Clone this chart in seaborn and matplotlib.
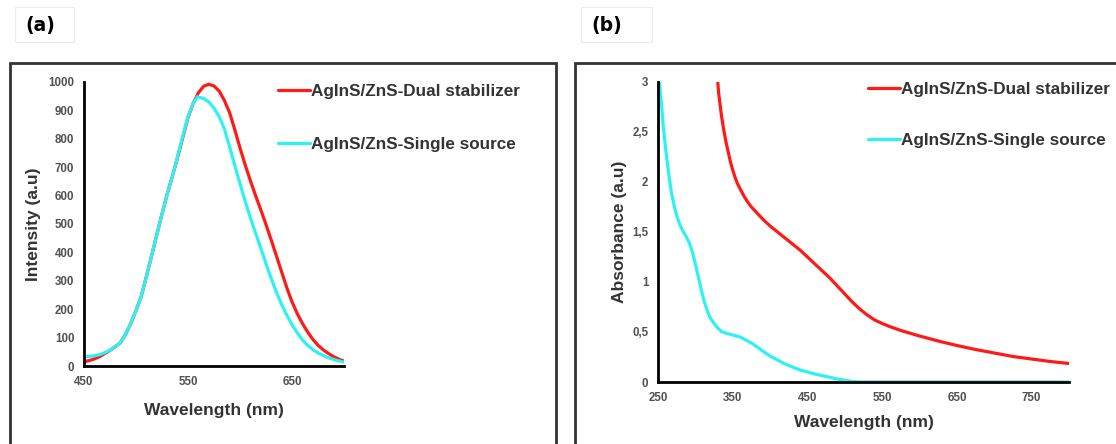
import numpy as np
import pandas as pd
import matplotlib
matplotlib.use("Agg")
import matplotlib.pyplot as plt
from matplotlib.patches import Rectangle
from matplotlib.lines import Line2D
from matplotlib.ticker import FuncFormatter
import seaborn as sns

# ---------------- data ----------------
# (a) photoluminescence
pl_wl_dual = [450, 455, 460, 465, 470, 475, 480, 485, 490, 495, 500, 505, 510, 515, 520,
              525, 530, 535, 540, 545, 550, 555, 560, 565, 570, 575, 580, 585, 590, 595,
              600, 605, 610, 615, 620, 625, 630, 635, 640, 645, 650, 655, 660, 665, 670,
              675, 680, 685, 690, 695, 700]
pl_int_dual = [15, 19, 25, 33, 44, 55, 68, 82, 112, 150, 195, 245, 315, 388, 462,
               535, 605, 668, 735, 805, 875, 925, 962, 985, 992, 986, 968, 935, 892, 832,
               768, 708, 652, 600, 550, 498, 444, 388, 332, 276, 226, 185, 150, 120, 94,
               73, 57, 44, 33, 24, 17]

pl_wl_single = [450, 455, 460, 465, 470, 475, 480, 485, 490, 495, 500, 505, 510, 515, 520,
                525, 530, 535, 540, 545, 550, 555, 559, 565, 570, 575, 580, 585, 590, 595,
                600, 605, 610, 615, 620, 625, 630, 635, 640, 645, 650, 655, 660, 665, 670,
                675, 680, 685, 690, 695, 700]
pl_int_single = [33, 34, 36, 40, 47, 56, 68, 82, 112, 150, 195, 245, 315, 388, 462,
                 535, 605, 668, 738, 810, 878, 925, 948, 942, 930, 908, 878, 835, 772, 706,
                 642, 580, 522, 468, 415, 360, 308, 260, 217, 179, 146, 117, 92, 73, 58,
                 46, 37, 29, 23, 18, 14]

# (b) absorbance
abs_wl_dual = [330, 331, 333, 335, 338, 341, 344, 347, 350, 353, 356, 360, 365, 370, 375,
               380, 390, 400, 410, 420, 430, 440, 450, 460, 470, 480, 490, 500, 510, 520,
               530, 540, 550, 560, 575, 600, 625, 650, 675, 700, 725, 750, 775, 800]
abs_val_dual = [3.0, 2.9, 2.78, 2.66, 2.52, 2.4, 2.3, 2.2, 2.12, 2.05, 1.99, 1.93, 1.86, 1.8, 1.75,
                1.71, 1.63, 1.56, 1.5, 1.44, 1.38, 1.32, 1.25, 1.18, 1.11, 1.04, 0.96, 0.88, 0.80, 0.73,
                0.67, 0.62, 0.585, 0.555, 0.515, 0.46, 0.41, 0.365, 0.325, 0.29, 0.255, 0.23, 0.205, 0.185]

abs_wl_single = [252, 253, 255, 257, 260, 262, 265, 268, 272, 276, 280, 284, 288, 292, 296,
                 300, 304, 308, 312, 316, 320, 325, 330, 335, 340, 345, 350, 355, 360, 365,
                 370, 375, 380, 390, 400, 410, 420, 430, 440, 450, 460, 475, 490, 500, 510,
                 520, 600, 700, 800]
abs_val_single = [3.0, 2.9, 2.75, 2.56, 2.35, 2.22, 2.05, 1.89, 1.75, 1.64, 1.56, 1.5, 1.45, 1.39, 1.3,
                  1.18, 1.05, 0.92, 0.8, 0.71, 0.64, 0.585, 0.54, 0.505, 0.49, 0.48, 0.47, 0.46, 0.45, 0.43,
                  0.41, 0.39, 0.365, 0.31, 0.26, 0.22, 0.18, 0.15, 0.12, 0.10, 0.08, 0.055, 0.03, 0.018, 0.006,
                  0.0, 0.0, 0.0, 0.0]

label_dual = "AgInS/ZnS-Dual stabilizer"
label_single = "AgInS/ZnS-Single source"
red = "#ff1a1a"
cyan = "#2ef2f2"

# ---------------- style ----------------
sns.set_style("white")
plt.rcParams["font.family"] = ["Liberation Sans", "DejaVu Sans"]
plt.rcParams["font.weight"] = "bold"

W, H = 1116, 444
fig = plt.figure(figsize=(W / 100, H / 100), dpi=100)

def fx(px):
    return px / W

def fy(py):
    return 1 - py / H

# panel frames
for x0, x1 in [(10, 556), (575, 1140)]:
    fig.patches.append(Rectangle((fx(x0), fy(480)), fx(x1) - fx(x0), fy(63) - fy(480),
                                 transform=fig.transFigure, fill=False, edgecolor="#333333",
                                 linewidth=2.0, clip_on=False))
# panel label boxes
for (x0, x1, txt, cx) in [(15, 74, "(a)", 40), (581, 652, "(b)", 607)]:
    fig.patches.append(Rectangle((fx(x0), fy(42)), fx(x1) - fx(x0), fy(7) - fy(42),
                                 transform=fig.transFigure, facecolor="white",
                                 edgecolor="#ececec", linewidth=0.8))
    fig.text(fx(cx), fy(26), txt, ha="center", va="center", fontsize=13.5,
             fontweight="bold", family="DejaVu Sans", color="black")

ax_a = fig.add_axes([fx(84), fy(366), fx(344) - fx(84), fy(82) - fy(366)])
ax_b = fig.add_axes([fx(658), fy(382), fx(1069) - fx(658), fy(82) - fy(382)])

df_a = pd.concat([
    pd.DataFrame({"wl": pl_wl_dual, "val": pl_int_dual, "series": label_dual}),
    pd.DataFrame({"wl": pl_wl_single, "val": pl_int_single, "series": label_single}),
])
df_b = pd.concat([
    pd.DataFrame({"wl": abs_wl_dual, "val": abs_val_dual, "series": label_dual}),
    pd.DataFrame({"wl": abs_wl_single, "val": abs_val_single, "series": label_single}),
])
palette = {label_dual: red, label_single: cyan}

for ax, df in [(ax_a, df_a), (ax_b, df_b)]:
    sns.lineplot(data=df, x="wl", y="val", hue="series", palette=palette,
                 linewidth=2.3, ax=ax, legend=False, zorder=3)
    for ln in ax.get_lines():
        ln.set_solid_joinstyle("round")
        ln.set_solid_capstyle("round")

for ax in (ax_a, ax_b):
    sns.despine(ax=ax)
    for s in ("left", "bottom"):
        ax.spines[s].set_linewidth(2.0)
        ax.spines[s].set_color("black")
        ax.spines[s].set_zorder(5)
    ax.tick_params(axis="both", direction="out", length=3, width=1.5, color="black",
                   labelsize=8.3, labelcolor="#505050", pad=4)
    ax.set_facecolor("none")

ax_a.set_xlim(450, 700)
ax_a.set_ylim(0, 1000)
ax_a.set_xticks([450, 550, 650])
ax_a.set_yticks(range(0, 1001, 100))
ax_b.set_xlim(250, 800)
ax_b.set_ylim(0, 3)
ax_b.set_xticks([250, 350, 450, 550, 650, 750])
ax_b.set_yticks([0, 0.5, 1, 1.5, 2, 2.5, 3])
ax_b.yaxis.set_major_formatter(FuncFormatter(lambda v, p: ("%g" % v).replace(".", ",")))

for ax in (ax_a, ax_b):
    for lab in ax.get_xticklabels() + ax.get_yticklabels():
        lab.set_fontweight("bold")

ax_a.set_xlabel("Wavelength (nm)", fontsize=12.5, fontweight="bold", color="#333333", labelpad=11)
ax_a.set_ylabel("Intensity (a.u)", fontsize=12.5, fontweight="bold", color="#333333", labelpad=5)
ax_b.set_xlabel("Wavelength (nm)", fontsize=12.5, fontweight="bold", color="#333333", labelpad=8)
ax_b.set_ylabel("Absorbance (a.u)", fontsize=12.5, fontweight="bold", color="#333333", labelpad=4)

# legends
handles = [Line2D([], [], color=red, linewidth=2.3), Line2D([], [], color=cyan, linewidth=2.3)]
for ax, (lx, ly) in [(ax_a, (278, 84)), (ax_b, (868, 82))]:
    leg = ax.legend(handles, [label_dual, label_single], loc="upper left",
                    bbox_to_anchor=(fx(lx), fy(ly)), bbox_transform=fig.transFigure,
                    frameon=False, fontsize=12.3, handlelength=1.85, handletextpad=0.1,
                    labelspacing=2.1 if ax is ax_b else 2.2, borderpad=0, borderaxespad=0)
    for t in leg.get_texts():
        t.set_fontweight("bold")
        t.set_color("#333333")

fig.savefig("out.png", dpi=100, facecolor="white")
